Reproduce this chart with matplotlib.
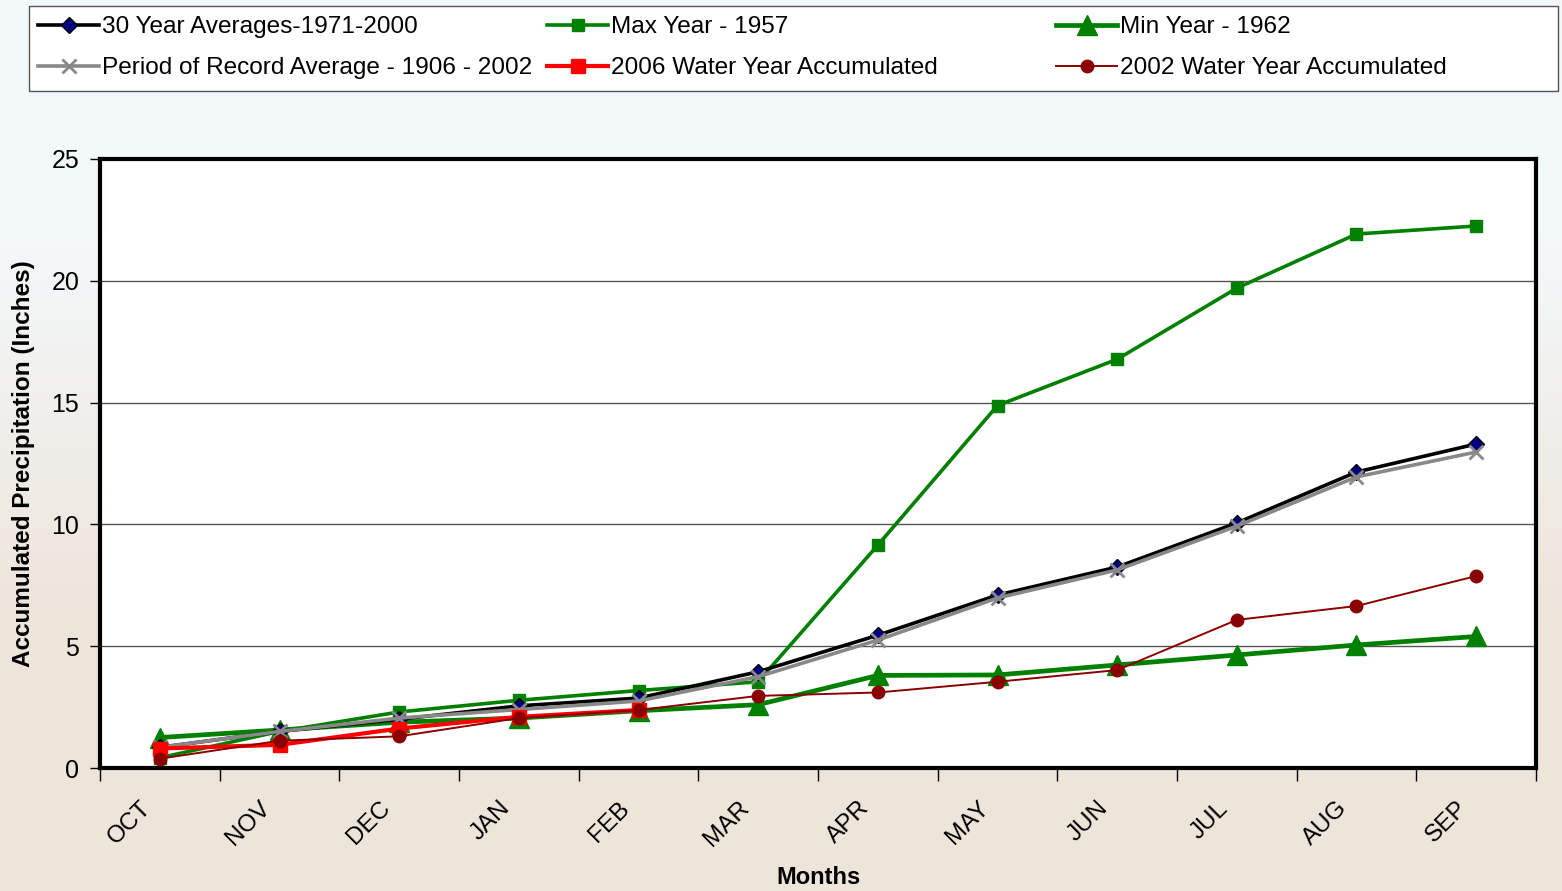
import numpy as np
import matplotlib
matplotlib.use("Agg")
import matplotlib.pyplot as plt
from matplotlib.patches import Rectangle
from matplotlib.transforms import ScaledTranslation

months = ["OCT", "NOV", "DEC", "JAN", "FEB", "MAR", "APR", "MAY", "JUN", "JUL", "AUG", "SEP"]
avg_30yr = [0.85, 1.5, 2.0, 2.55, 2.87, 3.95, 5.45, 7.1, 8.25, 10.06, 12.15, 13.3]
avg_por = [0.85, 1.5, 2.05, 2.4, 2.75, 3.75, 5.25, 6.98, 8.13, 9.93, 11.95, 12.97]
max_1957 = [0.42, 1.5, 2.3, 2.78, 3.18, 3.54, 9.15, 14.88, 16.78, 19.7, 21.92, 22.25]
min_1962 = [1.25, 1.56, 1.88, 2.05, 2.35, 2.6, 3.8, 3.82, 4.23, 4.64, 5.05, 5.4]
wy_2006 = [0.8, 0.95, 1.62, 2.1, 2.38]
wy_2002 = [0.38, 1.12, 1.3, 2.05, 2.38, 2.96, 3.1, 3.54, 4.02, 6.08, 6.65, 7.88]
yticks = [0, 5, 10, 15, 20, 25]

W, H = 1562, 891
fig = plt.figure(figsize=(W / 100, H / 100), dpi=100)
plt.rcParams['font.family'] = ['Liberation Sans', 'DejaVu Sans']

# background gradient
bg = fig.add_axes([0, 0, 1, 1], zorder=-10)
grad = np.linspace(0, 1, 256).reshape(-1, 1)
top = np.array([0.955, 0.975, 0.985])
bot = np.array([0.930, 0.895, 0.855])
t = np.clip((grad - 0.25) / 0.45, 0, 1)
img = top * (1 - t) + bot * t
img = img.reshape(256, 1, 3)
bg.imshow(img, aspect='auto', extent=[0, 1, 0, 1], origin='upper')
bg.set_axis_off()

ax = fig.add_axes([100 / W, 1 - 768 / H, (1536 - 100) / W, (768 - 159) / H])
ax.set_facecolor('white')
x = np.arange(len(months))

l1, = ax.plot(x, avg_30yr, color='black', lw=2.6, marker='D', ms=8,
              mfc='#000080', mec='black', mew=1, zorder=4)
l2, = ax.plot(x, avg_por, color='#888888', lw=2.6, marker='x', ms=10,
              mec='#888888', mew=2, zorder=5)
l3, = ax.plot(x, max_1957, color='#008000', lw=2.6, marker='s', ms=8,
              mfc='#008000', mec='#008000', zorder=3)
l4, = ax.plot(x, min_1962, color='#008000', lw=3.4, marker='^', ms=15,
              mfc='#008000', mec='#008000', zorder=3.5)
l5, = ax.plot(x[:len(wy_2006)], wy_2006, color='#ff0000', lw=3, marker='s', ms=10,
              mfc='#ff0000', mec='#ff0000', zorder=6)
l6, = ax.plot(x, wy_2002, color='#8b0000', lw=1.4, marker='o', ms=9,
              mfc='#8b0000', mec='#8b0000', zorder=7)

ax.set_xlim(-0.5, len(months) - 0.5)
ax.set_ylim(0, 25)
ax.set_yticks(yticks)
ax.set_yticklabels([str(v) for v in yticks], fontsize=18)
ax.yaxis.grid(True, color='#555555', lw=1)
ax.set_axisbelow(True)
ax.tick_params(axis='y', length=7, width=1, direction='out', pad=8)

ax.set_xticks(x)
ax.set_xticklabels(months, fontsize=17.5, rotation=45, ha='right', va='top',
                   rotation_mode='anchor')
ax.tick_params(axis='x', which='major', length=0, pad=21)
off = ScaledTranslation(-20 / 100, 0, fig.dpi_scale_trans)
for lab in ax.get_xticklabels():
    lab.set_transform(lab.get_transform() + off)
ax.set_xticks(np.arange(-0.5, len(months) + 0.5, 1), minor=True)
ax.tick_params(axis='x', which='minor', length=9, width=1, direction='out')
for s in ax.spines.values():
    s.set_linewidth(3)
    s.set_color('black')

ax.set_xlabel("Months", fontsize=17, fontweight='bold', labelpad=11)
ax.set_ylabel("Accumulated Precipitation (Inches)", fontsize=17.5, fontweight='bold', labelpad=12)

# legend frame
fig.patches.append(Rectangle((29 / W, 1 - 91 / H), (1558 - 29) / W, (91 - 6) / H,
                             transform=fig.transFigure, facecolor='white',
                             edgecolor='#555555', lw=1, zorder=0))
cols = [([l1, l2], ["30 Year Averages-1971-2000", "Period of Record Average - 1906 - 2002"], 38),
        ([l3, l5], ["Max Year - 1957", "2006 Water Year Accumulated"], 547),
        ([l4, l6], ["Min Year - 1962", "2002 Water Year Accumulated"], 1056)]
for hs, labs, xp in cols:
    lg = fig.legend(hs, labs, loc='upper left', bbox_to_anchor=(xp / W, 1 - 16 / H),
                    frameon=False, fontsize=17.6, handlelength=2.5, handletextpad=0.1,
                    labelspacing=0.78, borderpad=0, borderaxespad=0, numpoints=1)
    lg.set_zorder(5)

fig.savefig("out.png", dpi=100)
